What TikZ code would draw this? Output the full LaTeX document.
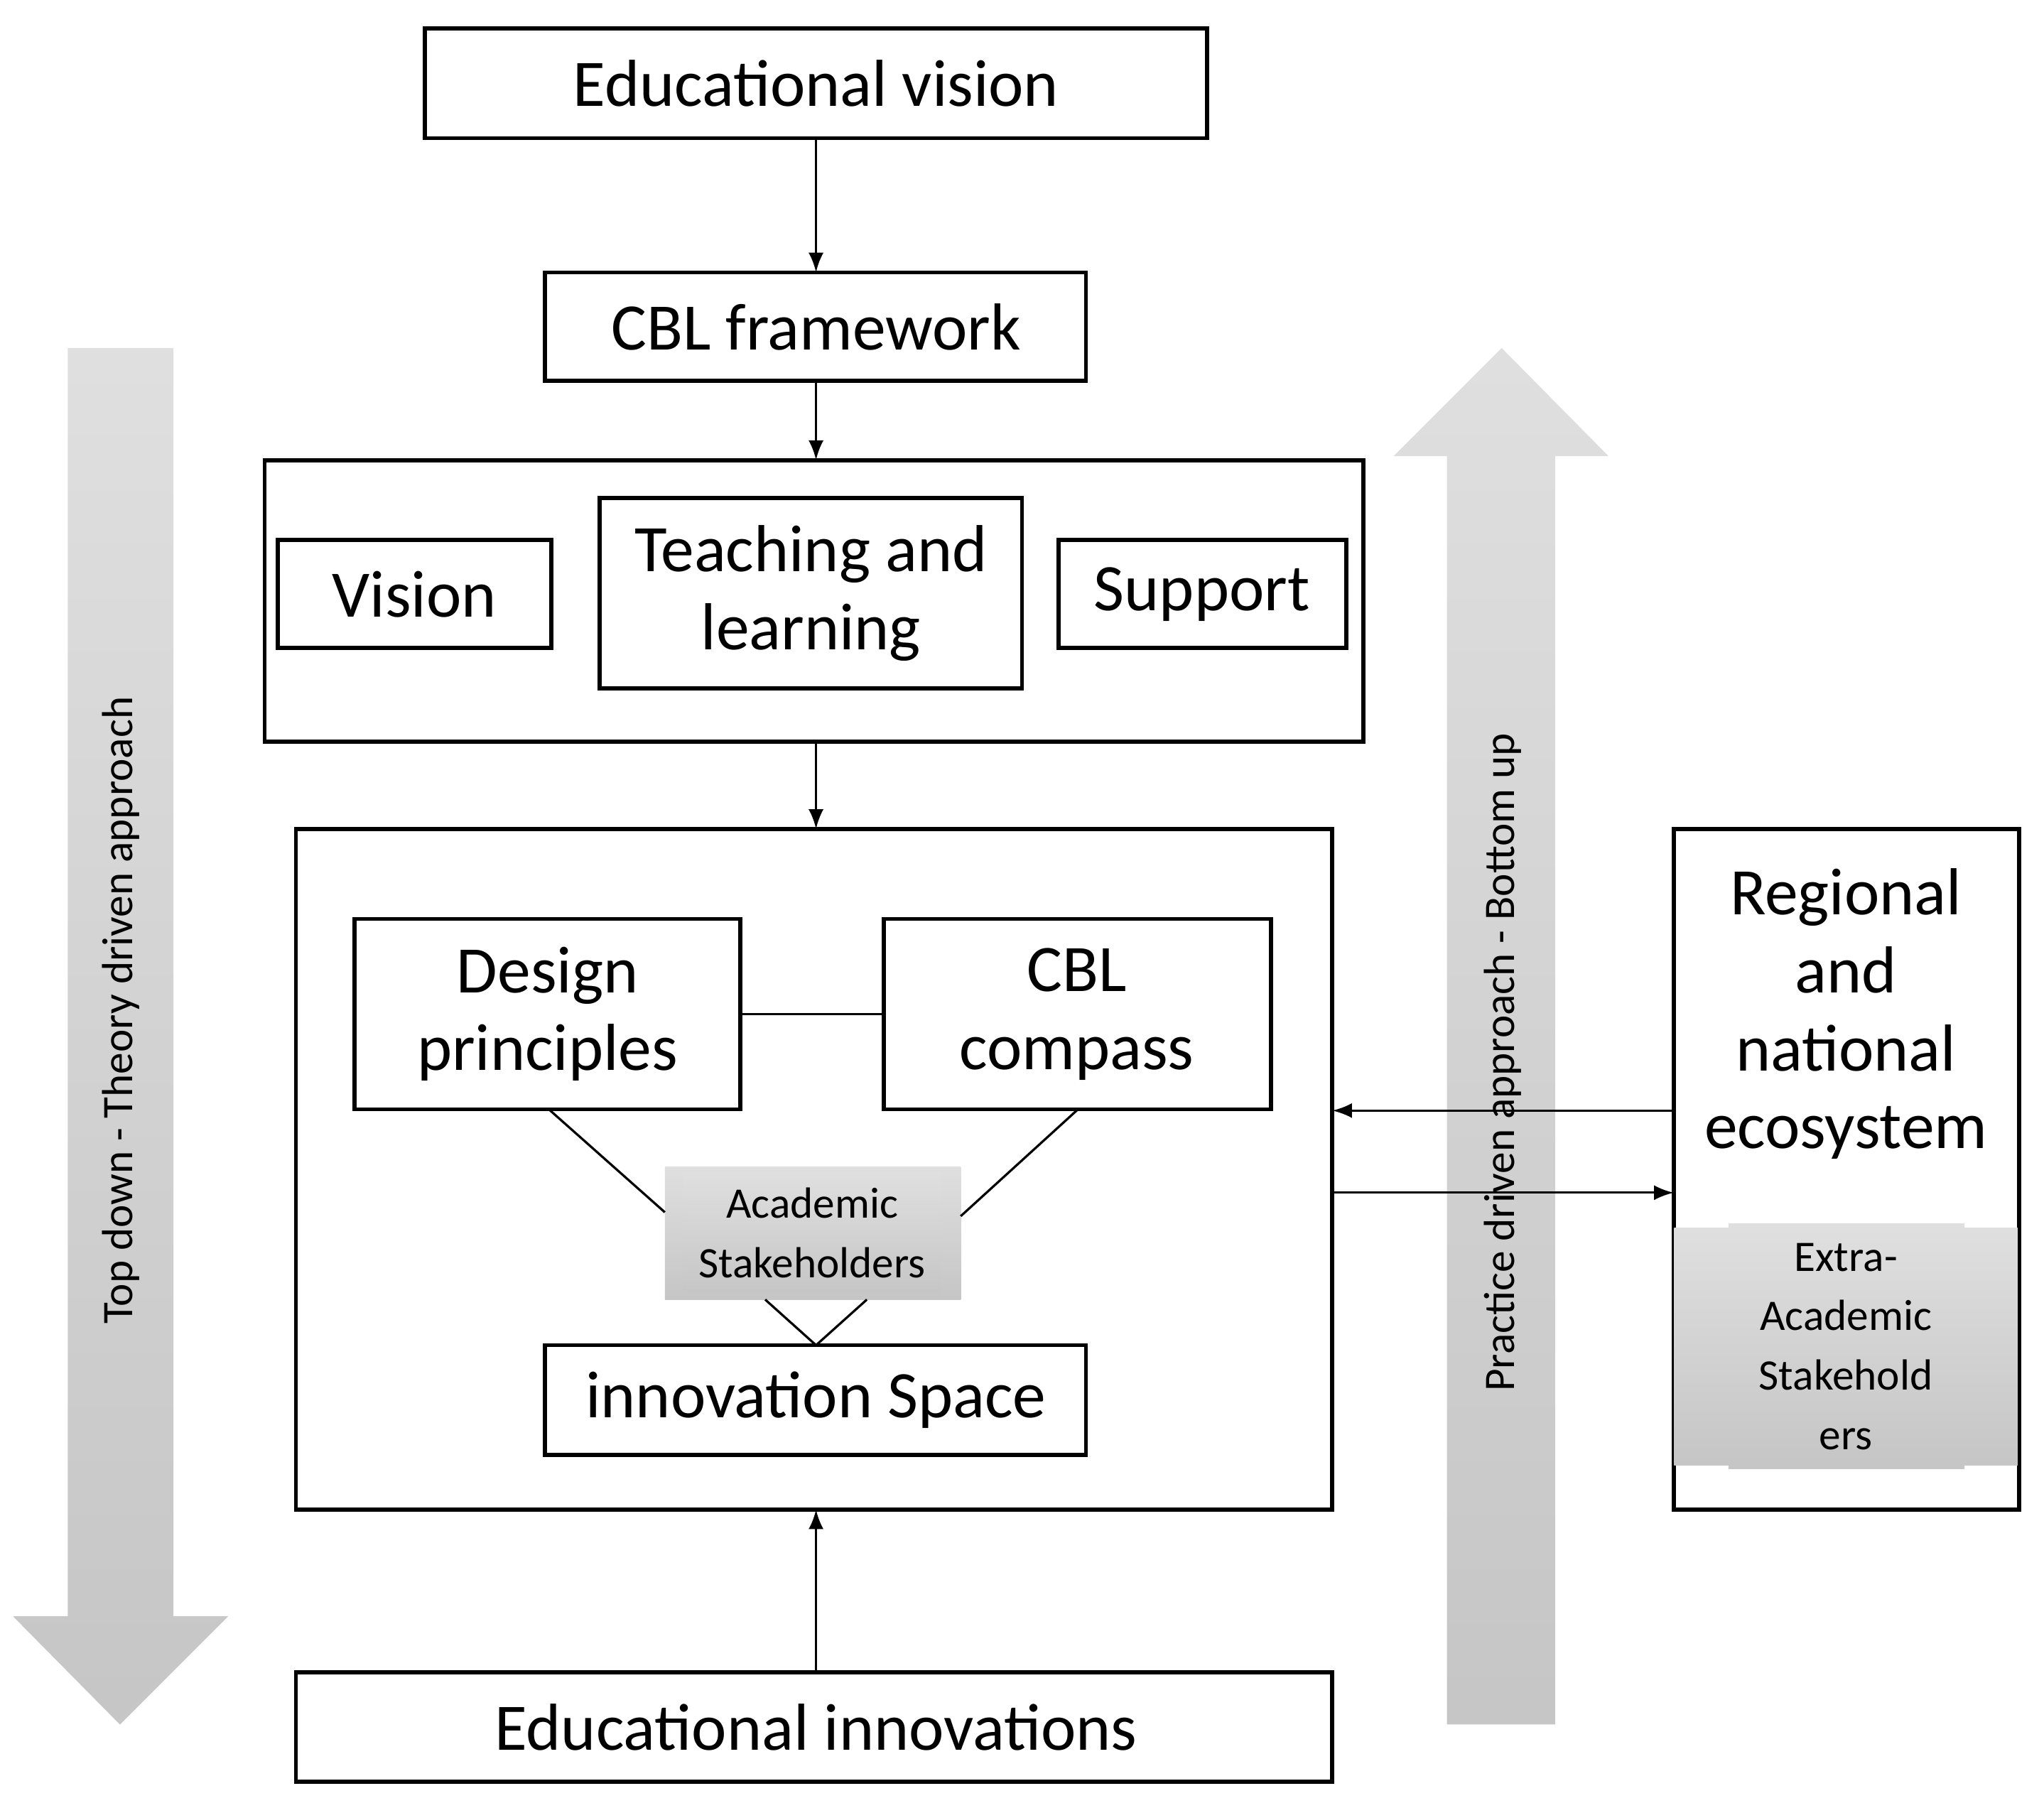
\documentclass[tikz,border=0pt]{standalone}
\usepackage{fontspec}
\setmainfont{Carlito}
\begin{document}
\begin{tikzpicture}[x=0.01cm,y=-0.01cm,
 bx/.style={draw,line width=0.9pt,fill=white},
 big/.style={font=\fontsize{14.5}{17}\selectfont,align=center},
 gr/.style={top color=gray!25,bottom color=gray!45,draw=none,font=\fontsize{9.5}{13}\selectfont,align=center},
 ar/.style={-latex,line width=0.5pt},
 ln/.style={line width=0.5pt}]
\useasboundingbox (0,0) rectangle (1568,1387);
% big arrows
\shade[top color=gray!25,bottom color=gray!45] (52,267)--(133,267)--(133,1240)--(175,1240)--(92,1323)--(10,1240)--(52,1240)--cycle;
\shade[top color=gray!25,bottom color=gray!45] (1110,1323)--(1193,1323)--(1193,350)--(1234,350)--(1152,267)--(1069,350)--(1110,350)--cycle;
\node[rotate=90,font=\fontsize{9.5}{12}\selectfont] (tl) at (93,775) {Top down - Theory driven approach};
\node[rotate=90,font=\fontsize{9.5}{12}\selectfont] (tr) at (1153,815) {Practice driven approach - Bottom up};
% boxes
\draw[bx] (326,22) rectangle (926,106); \node[big] (ev) at (626,64) {Educational vision};
\draw[bx] (418,209) rectangle (833,292); \node[big] (cf) at (626,251) {CBL framework};
\draw[bx] (203,353) rectangle (1046,569);
\draw[bx] (213,414) rectangle (423,497); \node[big] (vi) at (318,456) {Vision};
\draw[bx] (460,382) rectangle (784,528); \node[big] (tl2) at (622,455) {Teaching and\\learning};
\draw[bx] (812,414) rectangle (1033,497); \node[big] (su) at (922,456) {Support};
\draw[bx] (227,636) rectangle (1022,1158);
\draw[bx] (272,705) rectangle (568,851); \node[big,text width=4cm] (dp) at (420,778) {Design\\principles};
\draw[bx] (678,705) rectangle (975,851); \node[big,text width=4cm] (cc) at (826,778) {CBL\\compass};
\draw[bx] (418,1032) rectangle (833,1116); \node[big] (is) at (626,1074) {innovation Space};
\draw[bx] (227,1283) rectangle (1022,1367); \node[big] (ei) at (626,1325) {Educational innovations};
\draw[bx] (1284,636) rectangle (1549,1158); \node[big] (re) at (1416,778) {Regional\\and\\national\\ecosystem};
\fill[gr] (510,895) rectangle (737,997); \node[gr,fill=none] (as) at (623,946) {Academic\\Stakeholders};
\fill[gr] (1326,939) rectangle (1507,1127); \node[gr,fill=none,text width=2.4cm] (ea) at (1416,1033) {Extra-\\Academic\\Stakehold\\ers};
% connectors
\draw[ar] (626,106)--(626,209);
\draw[ar] (626,292)--(626,353);
\draw[ar] (626,569)--(626,636);
\draw[ar] (626,1283)--(626,1158);
\draw[ar] (1284,852)--(1022,852);
\draw[ar] (1022,915)--(1284,915);
\draw[ln] (568,778)--(678,778);
\draw[ln] (421,851)--(510,930);
\draw[ln] (827,851)--(737,933);
\draw[ln] (587,997)--(626,1032)--(665,997);
\end{tikzpicture}
\end{document}
